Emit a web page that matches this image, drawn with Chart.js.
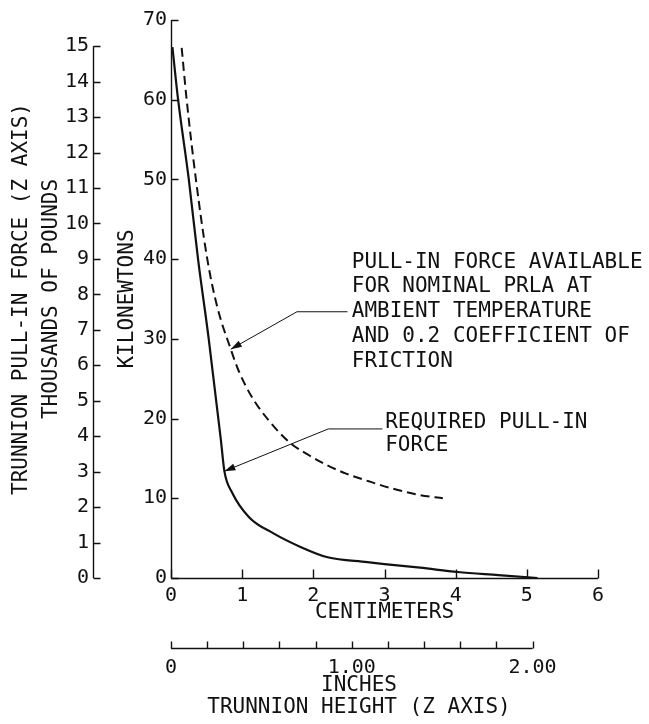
<!DOCTYPE html>
<html>
<head>
<meta charset="utf-8">
<script src="https://cdn.jsdelivr.net/npm/chart.js@4.4.0/dist/chart.umd.min.js"></script>
<style>
    html, body { margin: 0; padding: 0; background: #fff; }
    #chart { display: block; }
</style>
</head>
<body>
<canvas id="chart" width="649" height="724"></canvas>
<script>
// Trunnion pull-in force vs trunnion height

// Required pull-in force (solid curve), centimeters / kilonewtons
const requiredCm = [0.02, 0.10, 0.25, 0.38, 0.53, 0.70, 0.75, 0.86, 1.10, 1.44, 1.82, 2.20, 2.76, 3.00, 3.50, 4.03, 4.60, 5.15];
const requiredKn = [66.6, 60, 50, 40, 30, 17.4, 13.4, 10.7, 7.6, 5.6, 3.9, 2.6, 2.0, 1.75, 1.3, 0.75, 0.37, 0];

// Pull-in force available (dashed curve)
const availableCm = [0.15, 0.22, 0.35, 0.51, 0.65, 0.84, 0.95, 1.13, 1.37, 1.68, 1.94, 2.18, 2.46, 2.79, 3.12, 3.50, 3.82];
const availableKn = [66.5, 60, 50, 40, 34, 28.7, 26.0, 22.8, 19.8, 16.9, 15.4, 14.2, 13.1, 12.1, 11.2, 10.4, 10.0];

// Axis ranges and labels
const kNPerKlb = 4.448;
const cmPerInch = 2.54;
const inchLabelValues = [0, 1, 2];
const inchLabelText = ['0', '1.00', '2.00'];

// Callout leaders: arrow tip first, then bend, then end at the text
const availableLeaderCm = [0.84, 1.77, 2.48];
const availableLeaderKn = [28.7, 33.4, 33.4];
const requiredLeaderCm = [0.75, 2.21, 2.97];
const requiredLeaderKn = [13.4, 18.7, 18.7];

// Callout text and where it starts (cm, kN of first line)
const availableNote = ['PULL-IN FORCE AVAILABLE', 'FOR NOMINAL PRLA AT', 'AMBIENT TEMPERATURE', 'AND 0.2 COEFFICIENT OF', 'FRICTION'];
const availableNoteAt = [2.54, 39.6];
const requiredNote = ['REQUIRED PULL-IN', 'FORCE'];
const requiredNoteAt = [3.01, 19.45];
const inchTitle = ['INCHES', 'TRUNNION HEIGHT (Z AXIS)'];
const inchTitleAt = 1.04;

const FONT = "'DejaVu Sans Mono', monospace";
const INK = '#111';

// Which part of each axis gets a line, and how long the inward ticks are
const axisLines = {
    x: { from: 0, to: 6, tick: 9 },
    xIn: { from: 0, to: 2, tick: 7 },
    yKn: { from: 0, to: 70, tick: 7 },
    yLb: { from: 0, to: 15, tick: 7 }
};

const toPoints = (xs, ys) => xs.map((x, i) => ({ x: x, y: ys[i] }));

const paperPlugin = {
    id: 'paperPlugin',
    afterDraw(chart) {
        const ctx = chart.ctx;
        const sx = chart.scales.x;
        const sy = chart.scales.yKn;
        ctx.save();
        ctx.strokeStyle = INK;
        ctx.fillStyle = INK;

        // axis lines with ticks pointing into the plot
        ctx.lineWidth = 1.4;
        Object.keys(axisLines).forEach(id => {
            const a = axisLines[id];
            const s = chart.scales[id];
            const p0 = s.getPixelForValue(a.from);
            const p1 = s.getPixelForValue(a.to);
            ctx.beginPath();
            if (s.isHorizontal()) {
                const y = Math.round(s.top) + 0.5;
                ctx.moveTo(p0, y);
                ctx.lineTo(p1, y);
                s.ticks.forEach(t => {
                    if (t.value > a.to + 1e-6) return;
                    const x = Math.round(s.getPixelForValue(t.value)) + 0.5;
                    ctx.moveTo(x, y);
                    ctx.lineTo(x, y - a.tick);
                });
            } else {
                const x = Math.round(s.right) + 0.5;
                ctx.moveTo(x, p0);
                ctx.lineTo(x, p1);
                s.ticks.forEach(t => {
                    if (t.value > a.to + 1e-6) return;
                    const y = Math.round(s.getPixelForValue(t.value)) + 0.5;
                    ctx.moveTo(x, y);
                    ctx.lineTo(x + a.tick, y);
                });
            }
            ctx.stroke();
        });

        // callout leaders with filled arrowheads
        ctx.lineWidth = 1;
        [[availableLeaderCm, availableLeaderKn], [requiredLeaderCm, requiredLeaderKn]].forEach(([cms, kns]) => {
            const pts = cms.map((c, i) => [sx.getPixelForValue(c), sy.getPixelForValue(kns[i])]);
            ctx.beginPath();
            ctx.moveTo(pts[0][0], pts[0][1]);
            pts.slice(1).forEach(p => ctx.lineTo(p[0], p[1]));
            ctx.stroke();
            const ang = Math.atan2(pts[0][1] - pts[1][1], pts[0][0] - pts[1][0]);
            const len = 11, half = 3.5;
            ctx.beginPath();
            ctx.moveTo(pts[0][0], pts[0][1]);
            ctx.lineTo(pts[0][0] - len * Math.cos(ang) + half * Math.sin(ang), pts[0][1] - len * Math.sin(ang) - half * Math.cos(ang));
            ctx.lineTo(pts[0][0] - len * Math.cos(ang) - half * Math.sin(ang), pts[0][1] - len * Math.sin(ang) + half * Math.cos(ang));
            ctx.closePath();
            ctx.fill();
        });

        // callout text
        ctx.font = '21px ' + FONT;
        ctx.textBaseline = 'middle';
        ctx.textAlign = 'left';
        const drawNote = (lines, at, gap) => {
            const x = sx.getPixelForValue(at[0]);
            const y = sy.getPixelForValue(at[1]);
            lines.forEach((line, i) => ctx.fillText(line, x, y + i * gap));
        };
        drawNote(availableNote, availableNoteAt, 24.7);
        drawNote(requiredNote, requiredNoteAt, 23);

        // inch axis title, centred under the 0-2 inch span
        const sIn = chart.scales.xIn;
        ctx.textAlign = 'center';
        const cx = sIn.getPixelForValue(inchTitleAt);
        inchTitle.forEach((line, i) => ctx.fillText(line, cx, sIn.top + 38 + i * 22));

        ctx.restore();
    }
};

const tickFont = { family: FONT, size: 20 };
const titleFont = { family: FONT, size: 21 };
const noGrid = { display: false, drawTicks: false };

new Chart(document.getElementById('chart'), {
    type: 'line',
    data: {
        datasets: [
            {
                label: 'Required pull-in force',
                data: toPoints(requiredCm, requiredKn),
                borderColor: INK,
                borderWidth: 2.2,
                pointRadius: 0,
                cubicInterpolationMode: 'monotone',
                xAxisID: 'x',
                yAxisID: 'yKn'
            },
            {
                label: 'Pull-in force available',
                data: toPoints(availableCm, availableKn),
                borderColor: INK,
                borderWidth: 2,
                borderDash: [9, 5],
                pointRadius: 0,
                cubicInterpolationMode: 'monotone',
                xAxisID: 'x',
                yAxisID: 'yKn'
            }
        ]
    },
    options: {
        responsive: false,
        animation: false,
        devicePixelRatio: 1,
        layout: { padding: { left: 0, right: 51, top: 20, bottom: 0 } },
        plugins: {
            legend: { display: false },
            tooltip: { enabled: false }
        },
        scales: {
            x: {
                type: 'linear',
                position: 'bottom',
                weight: 0,
                min: 0,
                max: 6,
                grid: noGrid,
                border: { display: false },
                ticks: { stepSize: 1, color: INK, font: tickFont, padding: 6, maxRotation: 0 },
                title: { display: true, text: 'CENTIMETERS', color: INK, font: titleFont, padding: { top: 0, bottom: 23 } },
                afterFit: s => { s.height = 70; }
            },
            xIn: {
                type: 'linear',
                position: 'bottom',
                weight: 1,
                min: 0,
                max: 6 / cmPerInch,
                grid: noGrid,
                border: { display: false },
                ticks: {
                    stepSize: 0.2,
                    includeBounds: false,
                    autoSkip: false,
                    maxRotation: 0,
                    color: INK,
                    font: tickFont,
                    padding: 8,
                    callback: v => {
                        const i = inchLabelValues.findIndex(k => Math.abs(k - v) < 1e-6);
                        return i >= 0 ? inchLabelText[i] : '';
                    }
                },
                afterFit: s => { s.height = 76; }
            },
            yKn: {
                type: 'linear',
                position: 'left',
                weight: 0,
                min: 0,
                max: 70,
                grid: noGrid,
                border: { display: false },
                ticks: { stepSize: 10, color: INK, font: tickFont, padding: 4 },
                title: { display: true, text: 'KILONEWTONS', color: INK, font: titleFont, padding: { top: 22, bottom: 0 } },
                afterFit: s => { s.width = 78; }
            },
            yLb: {
                type: 'linear',
                position: 'left',
                weight: 1,
                min: 0,
                max: 70 / kNPerKlb,
                grid: noGrid,
                border: { display: false },
                ticks: { stepSize: 1, includeBounds: false, autoSkip: false, color: INK, font: tickFont, padding: 4 },
                title: {
                    display: true,
                    text: ['TRUNNION PULL-IN FORCE (Z AXIS)', 'THOUSANDS OF POUNDS'],
                    color: INK,
                    font: { family: FONT, size: 21, lineHeight: '30px' },
                    padding: { top: 7, bottom: 0 }
                },
                afterFit: s => { s.width = 93; }
            }
        }
    },
    plugins: [paperPlugin]
});
</script>
</body>
</html>
